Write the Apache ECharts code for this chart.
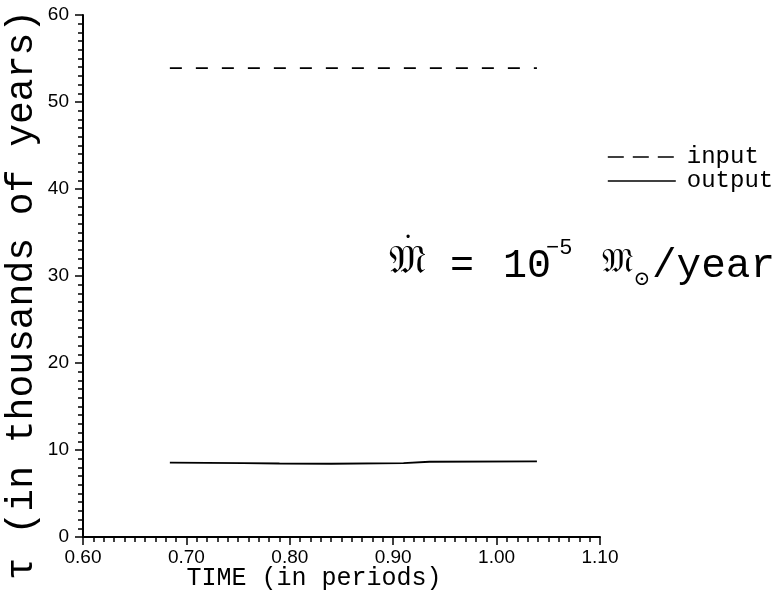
<!DOCTYPE html>
<html>
<head>
<meta charset="utf-8">
<script src="https://cdn.jsdelivr.net/npm/echarts@6/dist/echarts.min.js"></script>
<style>html,body{margin:0;padding:0;background:#fff}#c{width:782px;height:602px}</style>
</head>
<body>
<div id="c"></div>
<script>
// ---- data ----
const xTicks = [0.60, 0.70, 0.80, 0.90, 1.00, 1.10];
const yTicks = [0, 10, 20, 30, 40, 50, 60];
const inputX = [0.684, 0.86, 1.039];
const inputY = [53.9, 53.9, 53.9];
const outputX = [0.684, 0.755, 0.79, 0.84, 0.91, 0.935, 1.039];
const outputY = [8.55, 8.5, 8.45, 8.42, 8.48, 8.65, 8.7];
const seriesNames = ['input', 'output'];
const xTitle = 'TIME (in periods)';
const yTitle = 'τ (in thousands of years)';

const pair = (xs, ys) => xs.map((x, i) => [x, ys[i]]);
const mono = 'Liberation Mono, DejaVu Sans Mono, monospace';
const sans = 'Liberation Sans, Arial, sans-serif';
const frak = 'DejaVu Serif, DejaVu Sans, Noto Sans, serif';

const chart = echarts.init(document.getElementById('c'), null, {renderer: 'canvas'});
chart.setOption({
  animation: false,
  backgroundColor: '#fff',
  grid: {left: 83, right: 182, top: 15, bottom: 65, containLabel: false},
  legend: {
    orient: 'vertical', left: 602, top: 140, itemGap: 0,
    itemWidth: 68, itemHeight: 14,
    itemStyle: {opacity: 0},
    textStyle: {fontFamily: mono, fontSize: 24, color: '#000', lineHeight: 23, padding: [0, 0, 0, 6]},
    data: [
      {name: seriesNames[0], itemStyle: {opacity: 0}, lineStyle: {type: [16, 9], width: 1.6, color: '#000'}},
      {name: seriesNames[1], itemStyle: {opacity: 0}, lineStyle: {type: 'solid', width: 1.6, color: '#000'}}
    ]
  },
  xAxis: {
    type: 'value', min: xTicks[0], max: xTicks[xTicks.length - 1], interval: 0.1,
    axisLine: {show: true, lineStyle: {color: '#000', width: 2}},
    axisTick: {show: true, length: 8, lineStyle: {color: '#000', width: 1.5}},
    minorTick: {show: true, splitNumber: 10, length: 5, lineStyle: {color: '#000', width: 1.5}},
    splitLine: {show: false},
    axisLabel: {fontFamily: sans, fontSize: 19, color: '#000', margin: 11,
      formatter: v => v.toFixed(2), showMinLabel: true, showMaxLabel: true}
  },
  yAxis: {
    type: 'value', min: yTicks[0], max: yTicks[yTicks.length - 1], interval: 10,
    axisLine: {show: true, lineStyle: {color: '#000', width: 2}},
    axisTick: {show: true, length: 8, lineStyle: {color: '#000', width: 1.5}},
    minorTick: {show: true, splitNumber: 10, length: 5, lineStyle: {color: '#000', width: 1.5}},
    splitLine: {show: false},
    axisLabel: {fontFamily: sans, fontSize: 19, color: '#000', margin: 14}
  },
  series: [
    {name: seriesNames[0], type: 'line', symbol: 'none', data: pair(inputX, inputY),
     lineStyle: {color: '#000', width: 1.8, type: [12, 14]}, itemStyle: {color: '#000'}},
    {name: seriesNames[1], type: 'line', symbol: 'none', data: pair(outputX, outputY),
     lineStyle: {color: '#000', width: 1.8, type: 'solid'}, itemStyle: {color: '#000'}}
  ],
  graphic: [
    {type: 'text', x: 314, y: 578, style: {text: xTitle, font: '25px ' + mono, fill: '#000', textAlign: 'center', textVerticalAlign: 'middle'}},
    {type: 'text', x: 22, y: 295, rotation: Math.PI / 2, style: {text: yTitle, font: '38px ' + mono, fill: '#000', textAlign: 'center', textVerticalAlign: 'middle'}},
    {type: 'text', x: 407, y: 263, style: {text: '𝔐', font: '40px ' + frak, fill: '#000', textAlign: 'center', textVerticalAlign: 'middle'}},
    {type: 'text', x: 408, y: 238, style: {text: '•', font: '12px ' + sans, fill: '#000', textAlign: 'center', textVerticalAlign: 'middle'}},
    {type: 'text', x: 462, y: 266, style: {text: '=', font: '40px ' + mono, fill: '#000', textAlign: 'center', textVerticalAlign: 'middle'}},
    {type: 'text', x: 503, y: 266, style: {text: '10', font: '40px ' + mono, fill: '#000', textAlign: 'left', textVerticalAlign: 'middle'}},
    {type: 'text', x: 546, y: 248, style: {text: '−5', font: '22px ' + mono, fill: '#000', textAlign: 'left', textVerticalAlign: 'middle'}},
    {type: 'text', x: 617, y: 263, style: {text: '𝔐', font: '34px ' + frak, fill: '#000', textAlign: 'center', textVerticalAlign: 'middle'}},
    {type: 'text', x: 642, y: 280, style: {text: '⊙', font: '20px ' + frak, fill: '#000', textAlign: 'center', textVerticalAlign: 'middle'}},
    {type: 'text', x: 652, y: 266, style: {text: '/year', font: '41px ' + mono, fill: '#000', textAlign: 'left', textVerticalAlign: 'middle'}}
  ]
});
</script>
</body>
</html>
